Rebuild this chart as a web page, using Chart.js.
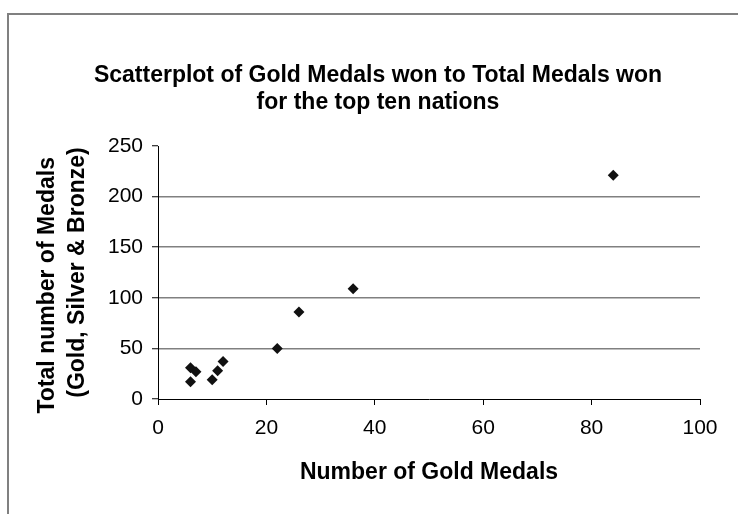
<!DOCTYPE html>
<html>
<head>
<meta charset="utf-8">
<script src="https://cdn.jsdelivr.net/npm/chart.js@4.4.1/dist/chart.umd.min.js"></script>
<style>
  html, body { margin: 0; padding: 0; background: #fff; }
  #wrap { width: 738px; height: 514px; position: relative; }
</style>
</head>
<body>
<div id="wrap"><canvas id="c" width="738" height="514"></canvas></div>
<script>
const goldMedals  = [84, 36, 26, 22, 6, 7, 6, 10, 11, 12];
const totalMedals = [221, 109, 86, 50, 31, 27, 17, 19, 28, 37];
const xTicks = [0, 20, 40, 60, 80, 100];
const yTicks = [0, 50, 100, 150, 200, 250];
const chartTitle = ['Scatterplot of Gold Medals won to Total Medals won', 'for the top ten nations'];
const xTitle = 'Number of Gold Medals';
const yTitle = ['Total number of Medals    ', '(Gold, Silver & Bronze)'];

const points = goldMedals.map((g, i) => ({ x: g, y: totalMedals[i] }));

const framePlugin = {
  id: 'frame',
  beforeDraw(chart) {
    const ctx = chart.ctx;
    ctx.save();
    ctx.fillStyle = '#fff';
    ctx.fillRect(0, 0, chart.width, chart.height);
    ctx.strokeStyle = '#808080';
    ctx.lineWidth = 2;
    ctx.strokeRect(8, 14, chart.width + 20, chart.height + 20);
    ctx.restore();
  }
};

const FONT = "'Liberation Sans', Arial, sans-serif";

new Chart(document.getElementById('c'), {
  type: 'scatter',
  data: {
    datasets: [{
      data: points,
      pointStyle: 'rectRot',
      pointRadius: 5.5,
      pointHoverRadius: 5.5,
      backgroundColor: '#111',
      borderColor: '#111',
      borderWidth: 0
    }]
  },
  options: {
    responsive: false,
    animation: false,
    events: [],
    layout: { padding: { left: 18, right: 0, top: 0, bottom: 0 } },
    plugins: {
      legend: { display: false },
      tooltip: { enabled: false },
      title: {
        display: true,
        text: chartTitle,
        color: '#000',
        font: { family: FONT, size: 23, weight: 'bold', lineHeight: 1.174 },
        padding: { top: 62, bottom: 30 }
      }
    },
    scales: {
      x: {
        type: 'linear',
        min: 0, max: 100,
        afterBuildTicks(scale) { scale.ticks = xTicks.map(v => ({ value: v })); },
        afterFit(scale) { scale.height = 115; scale.paddingLeft = 0; scale.paddingRight = 38; },
        grid: { drawOnChartArea: false, tickLength: 6, tickColor: '#000', tickWidth: 1 },
        border: { display: true, color: '#000', width: 1 },
        ticks: { color: '#000', font: { family: FONT, size: 21 }, padding: 11, maxRotation: 0 },
        title: {
          display: true,
          text: xTitle,
          color: '#000',
          font: { family: FONT, size: 23, weight: 'bold', lineHeight: 1.2 },
          padding: { top: 0, bottom: 28 }
        }
      },
      y: {
        type: 'linear',
        min: 0, max: 250,
        afterBuildTicks(scale) { scale.ticks = yTicks.map(v => ({ value: v })); },
        afterFit(scale) { scale.width = 140; scale.paddingTop = 0; scale.paddingBottom = 0; },
        grid: {
          color: (c) => (c.tick && (c.tick.value === 0 || c.tick.value === 250)) ? 'rgba(0,0,0,0)' : '#808080',
          lineWidth: 1.5,
          tickLength: 6,
          tickColor: '#000',
          tickWidth: 1
        },
        border: { display: true, color: '#000', width: 1 },
        ticks: { color: '#000', font: { family: FONT, size: 21 }, padding: 9 },
        title: {
          display: true,
          text: yTitle,
          color: '#000',
          font: { family: FONT, size: 23, weight: 'bold', lineHeight: 1.3 },
          padding: { top: 15, bottom: 0 }
        }
      }
    }
  },
  plugins: [framePlugin]
});
</script>
</body>
</html>
